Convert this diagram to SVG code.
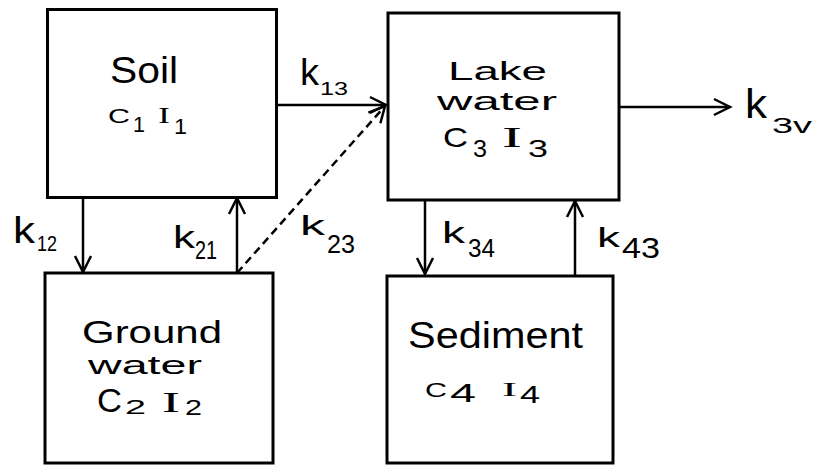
<svg xmlns="http://www.w3.org/2000/svg" width="813" height="465" viewBox="0 0 813 465">
<defs>
<style>
.box{fill:#fff;stroke:#000;stroke-width:3}
.conn{fill:none;stroke:#000;stroke-width:2.5}
.dash{stroke-dasharray:8 5}
text{font-family:"Liberation Sans",Arial,sans-serif;fill:#000}
.ser{font-family:"Liberation Serif","Times New Roman",serif}
</style>
<marker id="arr" markerUnits="userSpaceOnUse" markerWidth="20" markerHeight="20" refX="16" refY="8" orient="auto" overflow="visible">
<path d="M0,0 L16,8 L0,16" fill="none" stroke="#000" stroke-width="2.5"/>
</marker>
</defs>
<rect width="813" height="465" fill="#fff"/>
<g id="connectors">
<line class="conn" x1="277" y1="105" x2="386" y2="105" marker-end="url(#arr)"/>
<line class="conn dash" x1="237" y1="273" x2="385" y2="106" marker-end="url(#arr)"/>
<line class="conn" x1="83" y1="197" x2="83" y2="272" marker-end="url(#arr)"/>
<line class="conn" x1="237" y1="273" x2="237" y2="198" marker-end="url(#arr)"/>
<line class="conn" x1="425" y1="200" x2="425" y2="274" marker-end="url(#arr)"/>
<line class="conn" x1="575" y1="276" x2="575" y2="201" marker-end="url(#arr)"/>
<line class="conn" x1="619" y1="107" x2="730" y2="107" marker-end="url(#arr)"/>
<text x="300" y="85" font-size="37" textLength="19" lengthAdjust="spacingAndGlyphs">k</text><text x="320" y="95" font-size="18" textLength="28" lengthAdjust="spacingAndGlyphs">13</text>
<text x="13" y="243" font-size="36" textLength="22" lengthAdjust="spacingAndGlyphs">k</text><text x="37" y="251" font-size="22" textLength="20" lengthAdjust="spacingAndGlyphs">12</text>
<text x="173" y="248" font-size="32" textLength="22" lengthAdjust="spacingAndGlyphs">k</text><text x="195" y="259" font-size="25" textLength="22" lengthAdjust="spacingAndGlyphs">21</text>
<text x="300" y="235" font-size="28" textLength="25" lengthAdjust="spacingAndGlyphs">k</text><text x="327" y="253" font-size="26" textLength="28" lengthAdjust="spacingAndGlyphs">23</text>
<text x="442" y="243" font-size="29" textLength="23" lengthAdjust="spacingAndGlyphs">k</text><text x="468" y="257" font-size="25" textLength="27" lengthAdjust="spacingAndGlyphs">34</text>
<text x="597" y="247" font-size="28" textLength="23" lengthAdjust="spacingAndGlyphs">k</text><text x="622" y="258" font-size="30" textLength="38" lengthAdjust="spacingAndGlyphs">43</text>
<text x="745" y="118" font-size="41" textLength="22" lengthAdjust="spacingAndGlyphs">k</text><text x="772" y="133" font-size="22" textLength="40" lengthAdjust="spacingAndGlyphs">3v</text>
</g>
<g id="soil">
<rect class="box" x="47.5" y="9.5" width="229" height="188"/>
<text x="110" y="83" font-size="36" textLength="68" lengthAdjust="spacingAndGlyphs">Soil</text>
<text x="108" y="123" font-size="21" textLength="22" lengthAdjust="spacingAndGlyphs">C</text><text x="133" y="132" font-size="22" textLength="12" lengthAdjust="spacingAndGlyphs">1</text>
<text class="ser" x="158" y="123" font-size="24" textLength="12" lengthAdjust="spacingAndGlyphs">I</text><text x="174" y="134" font-size="22" textLength="13" lengthAdjust="spacingAndGlyphs">1</text>
</g>
<g id="lake">
<rect class="box" x="388" y="13" width="231" height="187"/>
<text x="448" y="80" font-size="26" textLength="99" lengthAdjust="spacingAndGlyphs">Lake</text>
<text x="437" y="110" font-size="26" textLength="120" lengthAdjust="spacingAndGlyphs">water</text>
<text x="443" y="147" font-size="28" textLength="25" lengthAdjust="spacingAndGlyphs">C</text><text x="473" y="157" font-size="23" textLength="14" lengthAdjust="spacingAndGlyphs">3</text>
<text class="ser" x="502" y="147" font-size="30" textLength="20" lengthAdjust="spacingAndGlyphs">I</text><text x="528" y="157" font-size="23" textLength="20" lengthAdjust="spacingAndGlyphs">3</text>
</g>
<g id="groundwater">
<rect class="box" x="45" y="273" width="228" height="190"/>
<text x="82" y="343" font-size="31" textLength="140" lengthAdjust="spacingAndGlyphs">Ground</text>
<text x="88" y="374" font-size="26" textLength="114" lengthAdjust="spacingAndGlyphs">water</text>
<text x="97" y="412" font-size="33" textLength="25" lengthAdjust="spacingAndGlyphs">C</text><text x="125" y="414" font-size="20" textLength="21" lengthAdjust="spacingAndGlyphs">2</text>
<text class="ser" x="162" y="412" font-size="30" textLength="18" lengthAdjust="spacingAndGlyphs">I</text><text x="185" y="415" font-size="22" textLength="17" lengthAdjust="spacingAndGlyphs">2</text>
</g>
<g id="sediment">
<rect class="box" x="387" y="276" width="226" height="187"/>
<text x="408" y="348" font-size="37" textLength="175" lengthAdjust="spacingAndGlyphs">Sediment</text>
<text x="425" y="397" font-size="20" textLength="22" lengthAdjust="spacingAndGlyphs">C</text><text x="450" y="402" font-size="25" textLength="26" lengthAdjust="spacingAndGlyphs">4</text>
<text class="ser" x="502" y="396" font-size="18" textLength="15" lengthAdjust="spacingAndGlyphs">I</text><text x="520" y="403" font-size="24" textLength="20" lengthAdjust="spacingAndGlyphs">4</text>
</g>
</svg>
